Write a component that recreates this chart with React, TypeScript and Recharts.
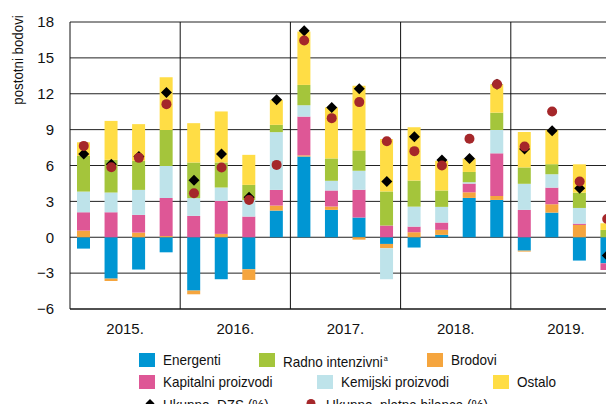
import {
  ComposedChart, Bar, Scatter, XAxis, YAxis, CartesianGrid, ReferenceLine,
} from 'recharts'

const FONT = "'Liberation Sans Narrow', 'Arial Narrow', 'Liberation Sans', Arial, sans-serif"

const YEARS = ['2015.', '2016.', '2017.', '2018.', '2019.']
const QUARTERS = ['Q1', 'Q2', 'Q3', 'Q4']
const Y_TICKS = [-6, -3, 0, 3, 6, 9, 12, 15, 18]

// doprinosi po skupinama, postotni bodovi
const energenti = [-0.95, -3.46, -2.7, -1.26, -4.46, -3.51, -2.68, 2.23, 6.75, 2.29, 1.65, -0.56, -0.86, 0.2, 3.29, 3.12, -1.12, 2.06, -1.95, -2.18]
const brodovi = [0.56, -0.2, 0.39, 0.1, -0.31, 0.28, -0.89, 0.42, 0.1, 0.28, -0.2, -0.36, 0.42, 0.42, 0.47, 0.33, -0.08, 0.7, 1.03, 0]
const kapitalni = [1.53, 2.09, 1.48, 3.18, 1.79, 2.76, 1.73, 1.31, 3.24, 1.34, 2.32, 0.98, 0.47, 0.61, 0.73, 3.57, 2.29, 1.39, 0.11, -0.56]
const kemijski = [1.73, 1.65, 2.09, 2.68, 1.48, 1.12, 1.39, 4.83, 0.95, 0.81, 1.59, -2.59, 1.67, 1.31, 0.11, 1.95, 2.18, 1.12, 1.31, 0]
const radno = [2.98, 2.73, 2.43, 3.01, 2.98, 2.09, 1.26, 0.61, 1.7, 1.87, 1.7, 2.85, 2.18, 1.37, 0.86, 1.45, 1.37, 0.84, 1.28, 0.61]
const ostalo = [1.14, 3.26, 3.07, 4.41, 3.29, 4.27, 2.51, 2.09, 4.46, 4.27, 5.41, 4.38, 4.46, 2.48, 1.12, 2.37, 2.96, 2.87, 2.37, 0.56]
const ukupnoDzs = [6.97, 6.1, 6.75, 12.1, 4.77, 6.97, 3.35, 11.49, 17.27, 10.85, 12.41, 4.66, 8.4, 6.47, 6.58, 12.8, 7.39, 8.9, 4.1, -1.53]
const ukupnoPb = [7.64, 5.86, 6.64, 11.13, 3.68, 5.83, 3.12, 6.05, 16.46, 9.96, 11.3, 8.03, 7.2, 6.0, 8.23, 12.8, 7.59, 10.52, 4.66, 1.53]

// redoslijed slaganja = redoslijed serija
const SERIES = [
  { key: 'energenti', name: 'Energenti', color: '#0096d3', values: energenti },
  { key: 'brodovi', name: 'Brodovi', color: '#f5a53e', values: brodovi },
  { key: 'kapitalni', name: 'Kapitalni proizvodi', color: '#de5796', values: kapitalni },
  { key: 'kemijski', name: 'Kemijski proizvodi', color: '#bee3ea', values: kemijski },
  { key: 'radno', name: 'Radno intenzivni', color: '#a4c53b', values: radno },
  { key: 'ostalo', name: 'Ostalo', color: '#ffdd45', values: ostalo },
]

const data = YEARS.flatMap((year, yi) =>
  QUARTERS.map((q, qi) => {
    const i = yi * 4 + qi
    const row: Record<string, string | number> = { q: `${year} ${q}`, year, dzs: ukupnoDzs[i], pb: ukupnoPb[i] }
    SERIES.forEach((s) => { row[s.key] = s.values[i] })
    return row
  })
)

const color = (key: string) => SERIES.find((s) => s.key === key)!.color

function Diamond({ cx, cy }: any) {
  const r = 5.5
  return <polygon points={`${cx},${cy - r} ${cx + r},${cy} ${cx},${cy + r} ${cx - r},${cy}`} fill="#000" />
}

function Dot({ cx, cy }: any) {
  return <circle cx={cx} cy={cy} r={5} fill="#a5272a" />
}

function YearTick(props: any) {
  const { x, y, index, payload } = props
  if (index % 4 !== 1) return null
  const half = payload?.offset ?? 13.75
  return (
    <text x={x + half} y={y + 17} textAnchor="middle" fontSize={15} fontFamily={FONT} fill="#111">
      {data[index].year}
    </text>
  )
}

const sq = (c: string) => (
  <span style={{ display: 'inline-block', width: 16, height: 14, background: c, marginRight: 8 }} />
)

function LegendItem({ left, top, mark, children }: any) {
  return (
    <div
      style={{
        position: 'absolute', left, top, height: 16, lineHeight: '16px', display: 'flex', alignItems: 'center',
        fontFamily: FONT, fontSize: 15, color: '#111', whiteSpace: 'nowrap',
      }}
    >
      {mark}
      <span style={{ display: 'inline-block', transform: 'scaleX(0.9)', transformOrigin: 'left center' }}>
        {children}
      </span>
    </div>
  )
}

export default function App() {
  return (
    <div style={{ margin: -8, width: 614, height: 412, overflow: 'hidden', position: 'relative', background: '#fff' }}>
      <div style={{ position: 'absolute', left: 10, right: 0, top: 7, height: 1, background: '#111' }} />
      <div
        style={{
          position: 'absolute', left: 18, top: 60, transform: 'translate(-50%, -50%) rotate(-90deg) scaleX(0.95)',
          fontFamily: FONT, fontSize: 14, color: '#111', whiteSpace: 'nowrap',
        }}
      >
        postotni bodovi
      </div>
      <ComposedChart
        width={640}
        height={412}
        data={data}
        stackOffset="sign"
        barSize={13}
        margin={{ top: 22, right: 19, bottom: 73, left: 0 }}
      >
        <CartesianGrid vertical={false} stroke="#222" />
        <XAxis
          dataKey="q"
          interval={0}
          height={30}
          tickLine={false}
          axisLine={{ stroke: '#111' }}
          tick={<YearTick />}
        />
        <YAxis
          width={70}
          domain={[-6, 18]}
          ticks={Y_TICKS}
          tickLine={false}
          tickMargin={10}
          axisLine={{ stroke: '#111' }}
          tick={{ fontSize: 15, fontFamily: FONT, fill: '#111' }}
          tickFormatter={(v: number) => (v < 0 ? `\u2212${Math.abs(v)}` : `${v}`)}
        />
        {YEARS.slice(1).map((y) => (
          <ReferenceLine key={y} x={`${y} Q1`} position="start" stroke="#111" />
        ))}
        {SERIES.map((s) => (
          <Bar key={s.key} dataKey={s.key} name={s.name} stackId="a" fill={s.color} isAnimationActive={false} />
        ))}
        <Scatter dataKey="dzs" shape={<Diamond />} isAnimationActive={false} />
        <Scatter dataKey="pb" shape={<Dot />} isAnimationActive={false} />
      </ComposedChart>

      <LegendItem left={139} top={352} mark={sq(color('energenti'))}>Energenti</LegendItem>
      <LegendItem left={259} top={352} mark={sq(color('radno'))}>
        Radno intenzivni<sup style={{ fontSize: 8, marginLeft: 1, verticalAlign: 6 }}>a</sup>
      </LegendItem>
      <LegendItem left={427} top={352} mark={sq(color('brodovi'))}>Brodovi</LegendItem>
      <LegendItem left={139} top={374} mark={sq(color('kapitalni'))}>Kapitalni proizvodi</LegendItem>
      <LegendItem left={317} top={374} mark={sq(color('kemijski'))}>Kemijski proizvodi</LegendItem>
      <LegendItem left={493} top={374} mark={sq(color('ostalo'))}>Ostalo</LegendItem>
      <LegendItem
        left={144}
        top={397}
        mark={
          <svg width={19} height={14}>
            <polygon points="6,1 10.5,5.5 6,10 1.5,5.5" fill="#000" />
          </svg>
        }
      >
        Ukupno, DZS (%)
      </LegendItem>
      <LegendItem
        left={306}
        top={397}
        mark={
          <svg width={20} height={14}>
            <circle cx={5} cy={5.5} r={4.5} fill="#a5272a" />
          </svg>
        }
      >
        Ukupno, platna bilanca (%)
      </LegendItem>
    </div>
  )
}
